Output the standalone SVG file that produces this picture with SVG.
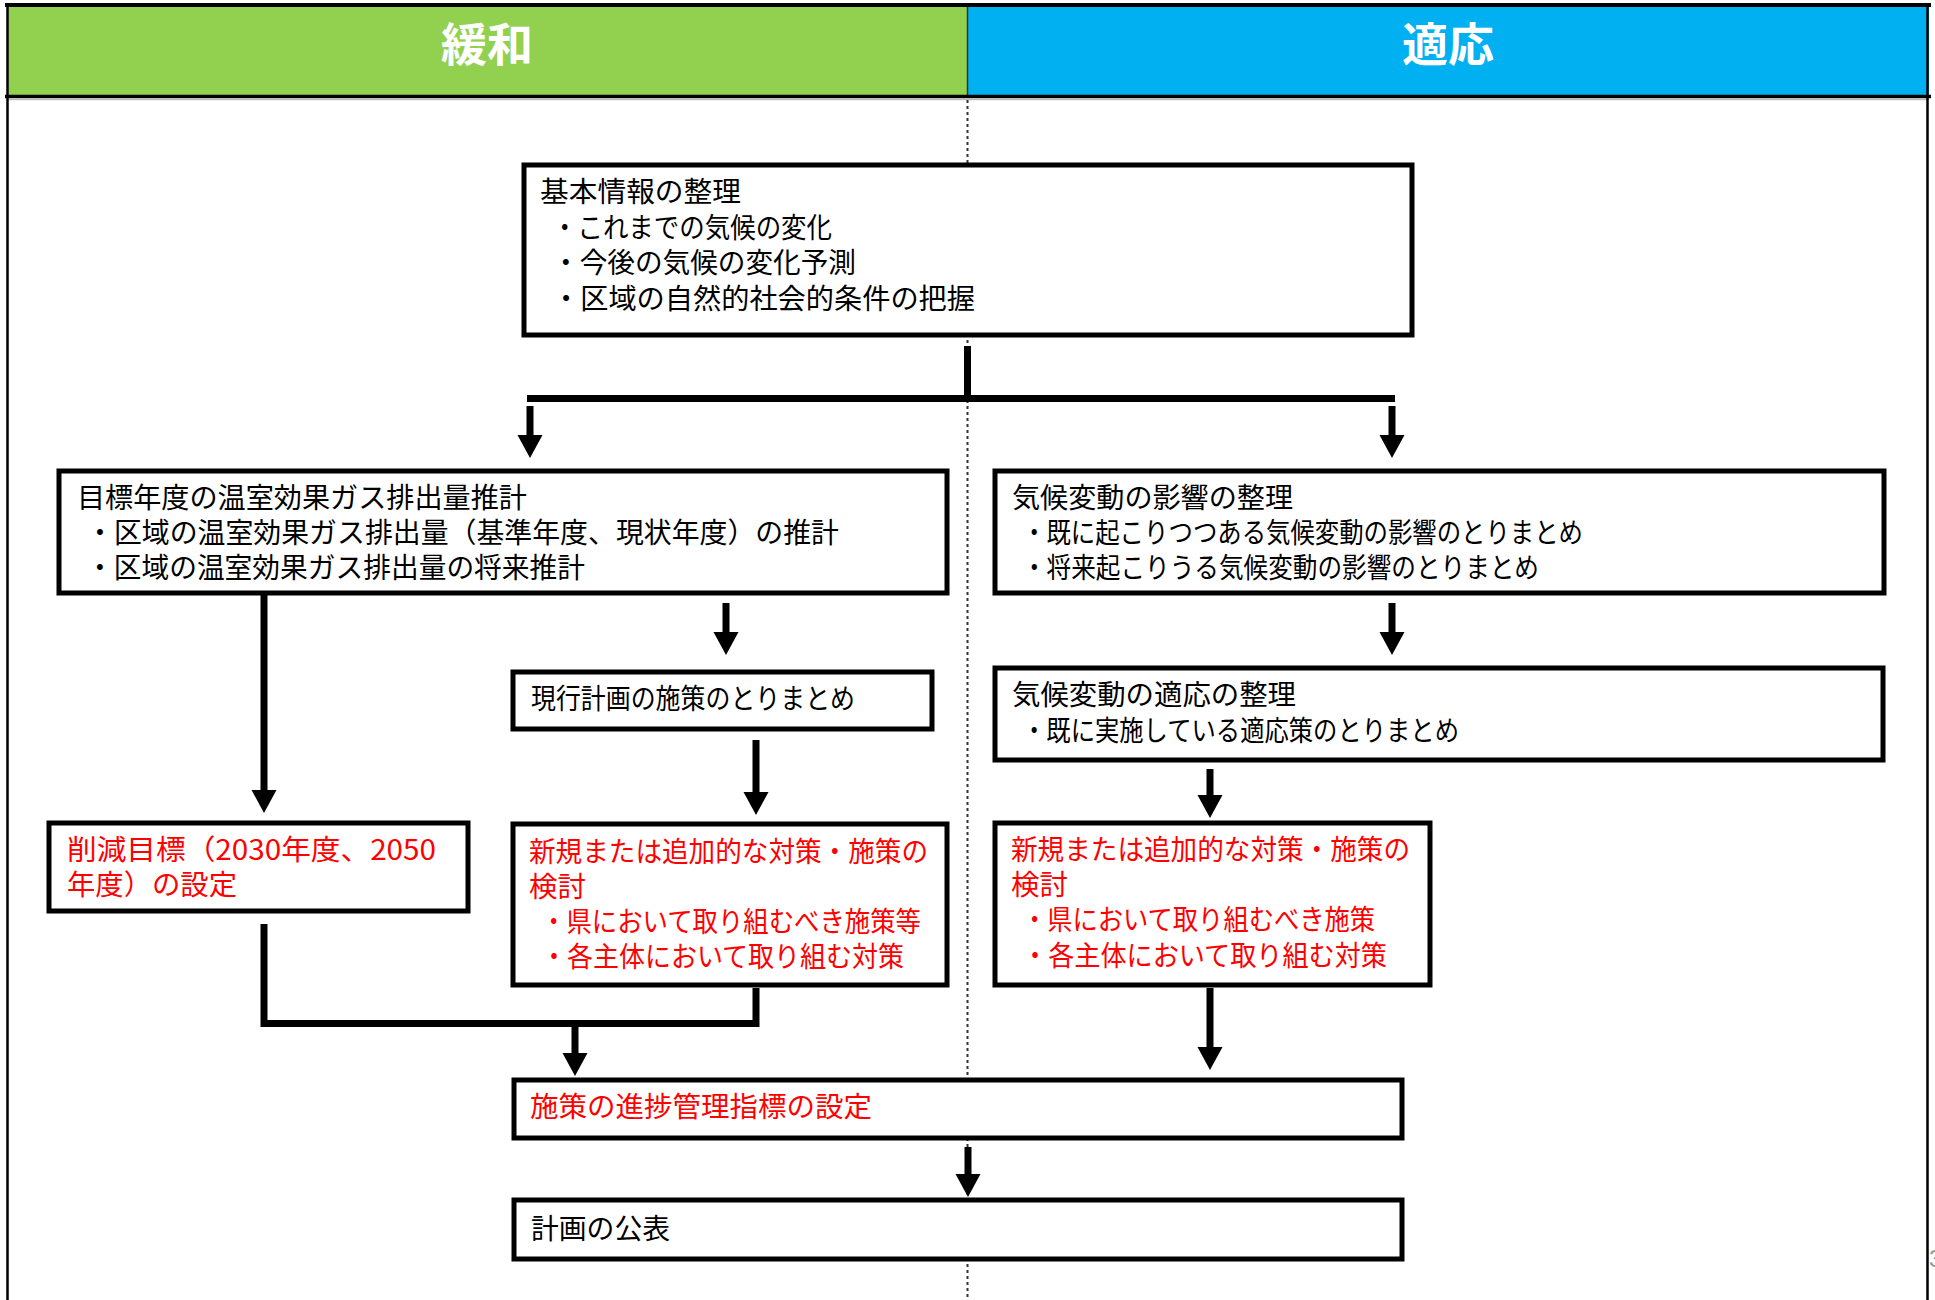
<svg xmlns="http://www.w3.org/2000/svg" width="1935" height="1300" viewBox="0 0 1935 1300">
<defs>
<style>
.box{fill:#fff;stroke:#000;stroke-width:5}
.t{font-family:"Noto Sans CJK JP","Noto Sans",sans-serif;font-size:28px;fill:#000}
.r{fill:#ff0000}
.hd{font-family:"Noto Sans CJK JP","Noto Sans",sans-serif;font-size:46px;font-weight:bold;fill:#fff}
.ln{fill:none;stroke:#000;stroke-width:7;stroke-linejoin:miter}
.ar{fill:none;stroke:#000;stroke-width:7;marker-end:url(#ah)}
</style>
<marker id="ah" markerUnits="userSpaceOnUse" markerWidth="24" markerHeight="26" refX="1" refY="12.5" orient="auto" overflow="visible">
<path d="M0,0 L23,12.5 L0,25 Z" fill="#000"/>
</marker>
</defs>
<rect width="1935" height="1300" fill="#fff"/>
<g id="header">
<rect x="7" y="5" width="961" height="91" fill="#92d050"/>
<rect x="968" y="5" width="961" height="91" fill="#00b0f0"/>
<line x1="967.5" y1="5" x2="967.5" y2="96" stroke="#333" stroke-width="1.5"/>
<line x1="5" y1="5" x2="1931" y2="5" stroke="#000" stroke-width="4"/>
<line x1="5" y1="96.5" x2="1931" y2="96.5" stroke="#000" stroke-width="3.5"/>
<line x1="7" y1="99.5" x2="1929" y2="99.5" stroke="#bbb" stroke-width="1.5"/>
<text class="hd" x="487" y="61" text-anchor="middle">緩和</text>
<text class="hd" x="1448" y="61" text-anchor="middle">適応</text>
</g>
<g id="frame">
<line x1="7.5" y1="3" x2="7.5" y2="1300" stroke="#000" stroke-width="2.5"/>
<line x1="1927.5" y1="3" x2="1927.5" y2="1300" stroke="#000" stroke-width="2.5"/>
<line x1="967.5" y1="100" x2="967.5" y2="1300" stroke="#333" stroke-width="2" stroke-dasharray="3,3"/>
<text x="1929" y="1267" font-family="Liberation Sans, sans-serif" font-size="24" fill="#999">3</text>
</g>
<g id="connectors">
<line class="ln" x1="967.5" y1="346" x2="967.5" y2="398"/>
<line class="ln" x1="527" y1="398.5" x2="1395" y2="398.5"/>
<line class="ar" x1="530" y1="406" x2="530" y2="436"/>
<line class="ar" x1="1392" y1="406" x2="1392" y2="436"/>
<line class="ar" x1="264" y1="595" x2="264" y2="791"/>
<line class="ar" x1="726" y1="603" x2="726" y2="633"/>
<line class="ar" x1="756" y1="740" x2="756" y2="793"/>
<line class="ar" x1="1392" y1="603" x2="1392" y2="633"/>
<line class="ar" x1="1210" y1="769" x2="1210" y2="796"/>
<line class="ar" x1="1210" y1="988" x2="1210" y2="1048"/>
<polyline class="ln" points="264,924 264,1023.5 756,1023.5 756,988"/>
<line class="ar" x1="575" y1="1027" x2="575" y2="1054"/>
<line class="ar" x1="968" y1="1147" x2="968" y2="1175"/>
</g>
<g id="n1">
<rect class="box" x="524" y="165" width="888" height="170"/>
<text class="t" x="540" y="202" textLength="201" lengthAdjust="spacingAndGlyphs">基本情報の整理</text>
<text class="t" x="552" y="237.5" textLength="280" lengthAdjust="spacingAndGlyphs">・これまでの気候の変化</text>
<text class="t" x="552" y="273" textLength="304" lengthAdjust="spacingAndGlyphs">・今後の気候の変化予測</text>
<text class="t" x="552" y="308.5" textLength="423" lengthAdjust="spacingAndGlyphs">・区域の自然的社会的条件の把握</text>
</g>
<g id="n2">
<rect class="box" x="59" y="471" width="888" height="122"/>
<text class="t" x="77" y="508" textLength="450" lengthAdjust="spacingAndGlyphs">目標年度の温室効果ガス排出量推計</text>
<text class="t" x="86" y="543" textLength="753" lengthAdjust="spacingAndGlyphs">・区域の温室効果ガス排出量（基準年度、現状年度）の推計</text>
<text class="t" x="86" y="578" textLength="499" lengthAdjust="spacingAndGlyphs">・区域の温室効果ガス排出量の将来推計</text>
</g>
<g id="n3">
<rect class="box" x="995" y="471" width="889" height="122"/>
<text class="t" x="1012" y="508" textLength="281" lengthAdjust="spacingAndGlyphs">気候変動の影響の整理</text>
<text class="t" x="1022" y="543" textLength="561" lengthAdjust="spacingAndGlyphs">・既に起こりつつある気候変動の影響のとりまとめ</text>
<text class="t" x="1022" y="578" textLength="517" lengthAdjust="spacingAndGlyphs">・将来起こりうる気候変動の影響のとりまとめ</text>
</g>
<g id="n4">
<rect class="box" x="513" y="672" width="419" height="57"/>
<text class="t" x="531" y="709" textLength="324" lengthAdjust="spacingAndGlyphs">現行計画の施策のとりまとめ</text>
</g>
<g id="n5">
<rect class="box" x="49" y="823" width="419" height="88"/>
<text class="t r" x="67" y="860" textLength="369" lengthAdjust="spacingAndGlyphs">削減目標（2030年度、2050</text>
<text class="t r" x="67" y="895" textLength="170" lengthAdjust="spacingAndGlyphs">年度）の設定</text>
</g>
<g id="n6">
<rect class="box" x="513" y="824" width="434" height="161"/>
<text class="t r" x="529" y="862" textLength="399" lengthAdjust="spacingAndGlyphs">新規または追加的な対策・施策の</text>
<text class="t r" x="529" y="897" textLength="57" lengthAdjust="spacingAndGlyphs">検討</text>
<text class="t r" x="541" y="932" textLength="380" lengthAdjust="spacingAndGlyphs">・県において取り組むべき施策等</text>
<text class="t r" x="541" y="967" textLength="363" lengthAdjust="spacingAndGlyphs">・各主体において取り組む対策</text>
</g>
<g id="n7">
<rect class="box" x="995" y="668" width="888" height="92"/>
<text class="t" x="1012" y="705" textLength="284" lengthAdjust="spacingAndGlyphs">気候変動の適応の整理</text>
<text class="t" x="1022" y="741" textLength="437" lengthAdjust="spacingAndGlyphs">・既に実施している適応策のとりまとめ</text>
</g>
<g id="n8">
<rect class="box" x="995" y="823" width="435" height="162"/>
<text class="t r" x="1011" y="860" textLength="399" lengthAdjust="spacingAndGlyphs">新規または追加的な対策・施策の</text>
<text class="t r" x="1011" y="895" textLength="57" lengthAdjust="spacingAndGlyphs">検討</text>
<text class="t r" x="1022" y="930" textLength="353" lengthAdjust="spacingAndGlyphs">・県において取り組むべき施策</text>
<text class="t r" x="1022" y="966" textLength="365" lengthAdjust="spacingAndGlyphs">・各主体において取り組む対策</text>
</g>
<g id="n9">
<rect class="box" x="514" y="1080" width="888" height="58"/>
<text class="t r" x="530" y="1117" textLength="342" lengthAdjust="spacingAndGlyphs">施策の進捗管理指標の設定</text>
</g>
<g id="n10">
<rect class="box" x="514" y="1200" width="888" height="59"/>
<text class="t" x="531" y="1239" textLength="139" lengthAdjust="spacingAndGlyphs">計画の公表</text>
</g>
</svg>
